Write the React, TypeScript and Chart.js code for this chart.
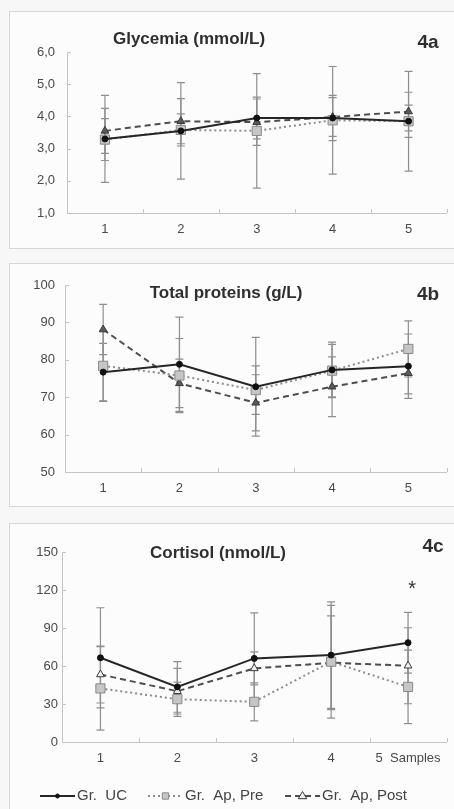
import React, { useEffect, useRef } from 'react';
import { Chart, registerables } from 'chart.js';
Chart.register(...registerables);

// ---------- data ----------
const categories = ['1', '2', '3', '4', '5'];
const cortisolTickLabels = ['1', '2', '3', '4', '5  Samples'];
const seriesNames = ['Gr.  UC', 'Gr.  Ap, Pre', 'Gr.  Ap, Post'];

const glycemiaUC = [3.3, 3.55, 3.95, 3.95, 3.85];
const glycemiaPre = [3.28, 3.58, 3.55, 3.88, 3.85];
const glycemiaPost = [3.55, 3.85, 3.82, 3.98, 4.15];
const glycemiaUCsd = [1.35, 1.5, 0.65, 0.7, 0.5];
const glycemiaPresd = [0.65, 0.5, 1.78, 1.67, 1.55];
const glycemiaPostsd = [0.7, 0.7, 0.72, 0.6, 0.6];

const proteinUC = [76.7, 78.8, 72.8, 77.3, 78.3];
const proteinPre = [78.4, 75.8, 71.9, 77.1, 82.9];
const proteinPost = [88.1, 73.7, 68.5, 72.8, 76.4];
const proteinUCsd = [7.7, 12.6, 13.2, 7.4, 8.6];
const proteinPresd = [9.5, 9.9, 6.5, 7.0, 7.5];
const proteinPostsd = [6.7, 6.5, 7.5, 8.0, 5.5];

const cortisolUC = [66.5, 43.5, 66, 68.6, 78.4];
const cortisolPre = [42.3, 33.8, 31.7, 63.4, 43.5];
const cortisolPost = [53.3, 40.1, 58.1, 62.6, 60.2];
const cortisolUCsd = [39.5, 20, 36, 42, 24];
const cortisolPresd = [33, 13.5, 15, 44.5, 29];
const cortisolPostsd = [22.5, 18, 13, 37, 30];

const FONT = '"Liberation Sans", Arial, Helvetica, sans-serif';
const W = 454;

type Area = { left: number; right: number; top: number; bottom: number };
type Spec = {
  title: string;
  tag: string;
  canvasTop: number;
  canvasHeight: number;
  area: Area;
  yMin: number;
  yMax: number;
  yStep: number;
  decimals: boolean;
  yPad: number;
  tickLabels: string[];
  values: number[][];
  sds: number[][];
  triFill: string;
  titlePos: [number, number];
  tagPos: [number, number];
  tagSize: number;
  star?: { index: number; value: number };
  legend?: { y: number; xs: number[] };
};

const specs: Spec[] = [
  {
    title: 'Glycemia (mmol/L)', tag: '4a', canvasTop: 0, canvasHeight: 255,
    area: { left: 67, right: 454, top: 52, bottom: 213 },
    yMin: 1, yMax: 6, yStep: 1, decimals: true, yPad: 12,
    tickLabels: categories,
    values: [glycemiaUC, glycemiaPre, glycemiaPost],
    sds: [glycemiaUCsd, glycemiaPresd, glycemiaPostsd],
    triFill: '#5a5a5a',
    titlePos: [189, 39], tagPos: [428, 43], tagSize: 19,
  },
  {
    title: 'Total proteins (g/L)', tag: '4b', canvasTop: 255, canvasHeight: 258,
    area: { left: 65, right: 450, top: 285, bottom: 472 },
    yMin: 50, yMax: 100, yStep: 10, decimals: false, yPad: 10,
    tickLabels: categories,
    values: [proteinUC, proteinPre, proteinPost],
    sds: [proteinUCsd, proteinPresd, proteinPostsd],
    triFill: '#5a5a5a',
    titlePos: [226, 293], tagPos: [428, 295], tagSize: 19,
  },
  {
    title: 'Cortisol (nmol/L)', tag: '4c', canvasTop: 515, canvasHeight: 294,
    area: { left: 62, right: 452, top: 552, bottom: 742 },
    yMin: 0, yMax: 150, yStep: 30, decimals: false, yPad: 4,
    tickLabels: cortisolTickLabels,
    values: [cortisolUC, cortisolPre, cortisolPost],
    sds: [cortisolUCsd, cortisolPresd, cortisolPostsd],
    triFill: '#f2f2f2',
    titlePos: [218, 553], tagPos: [433, 547], tagSize: 19,
    star: { index: 4, value: 124 },
    legend: { y: 796, xs: [40, 148, 285] },
  },
];

function drawMarker(ctx: CanvasRenderingContext2D, style: string, x: number, y: number, r: number, fill: string, stroke: string) {
  ctx.save();
  ctx.setLineDash([]);
  ctx.fillStyle = fill;
  ctx.strokeStyle = stroke;
  ctx.lineWidth = 1;
  ctx.beginPath();
  if (style === 'rect') {
    const s = r * Math.SQRT1_2;
    ctx.rect(x - s, y - s, 2 * s, 2 * s);
  } else if (style === 'triangle') {
    ctx.moveTo(x, y - r);
    ctx.lineTo(x + r * 0.95, y + r * 0.6);
    ctx.lineTo(x - r * 0.95, y + r * 0.6);
    ctx.closePath();
  } else {
    ctx.arc(x, y, r, 0, Math.PI * 2);
  }
  ctx.fill();
  ctx.stroke();
  ctx.restore();
}

const decorPlugin = {
  id: 'decor',
  beforeDatasetsDraw(chart: any) {
    const ctx = chart.ctx;
    const ys = chart.scales.y;
    ctx.save();
    ctx.strokeStyle = '#8e8e8e';
    ctx.lineWidth = 1.2;
    chart.data.datasets.forEach((ds: any, di: number) => {
      const meta = chart.getDatasetMeta(di);
      meta.data.forEach((pt: any, i: number) => {
        const v = ds.data[i];
        const s = ds.sd[i];
        const yt = ys.getPixelForValue(v + s);
        const yb = ys.getPixelForValue(v - s);
        ctx.beginPath();
        ctx.moveTo(pt.x, yt);
        ctx.lineTo(pt.x, yb);
        ctx.moveTo(pt.x - 4, yt);
        ctx.lineTo(pt.x + 4, yt);
        ctx.moveTo(pt.x - 4, yb);
        ctx.lineTo(pt.x + 4, yb);
        ctx.stroke();
      });
    });
    ctx.restore();
  },
  afterDraw(chart: any, _args: any, opts: any) {
    const ctx = chart.ctx;
    const xs = chart.scales.x;
    const ys = chart.scales.y;
    const a = chart.chartArea;
    const top = opts.canvasTop;
    ctx.save();
    // inside tick marks
    ctx.strokeStyle = '#c4c4c4';
    ctx.lineWidth = 1;
    ctx.beginPath();
    ys.ticks.forEach((_t: any, i: number) => {
      const py = Math.round(ys.getPixelForTick(i)) + 0.5;
      ctx.moveTo(a.left, py);
      ctx.lineTo(a.left + 4, py);
    });
    const n = xs.ticks.length;
    const band = n > 1 ? xs.getPixelForTick(1) - xs.getPixelForTick(0) : 0;
    for (let i = 0; i < n; i++) {
      const px = Math.round(xs.getPixelForTick(i) + band / 2) + 0.5;
      ctx.moveTo(px, a.bottom);
      ctx.lineTo(px, a.bottom - 4);
    }
    ctx.stroke();

    // title and tag
    ctx.fillStyle = '#2e2e2e';
    ctx.textAlign = 'center';
    ctx.textBaseline = 'middle';
    ctx.font = `bold 17px ${FONT}`;
    ctx.fillText(opts.title, opts.titlePos[0], opts.titlePos[1] - top);
    ctx.font = `bold ${opts.tagSize}px ${FONT}`;
    ctx.fillText(opts.tag, opts.tagPos[0], opts.tagPos[1] - top);

    if (opts.star) {
      ctx.font = `20px ${FONT}`;
      ctx.fillStyle = '#333';
      const sx = xs.getPixelForValue(opts.star.index) + 4;
      const sy = ys.getPixelForValue(opts.star.value);
      ctx.fillText('*', sx, sy + 5);
    }

    if (opts.legend) {
      const ly = opts.legend.y - top;
      chart.data.datasets.forEach((ds: any, di: number) => {
        const x0 = opts.legend.xs[di];
        ctx.save();
        ctx.strokeStyle = ds.borderColor;
        ctx.lineWidth = ds.borderWidth;
        ctx.setLineDash(ds.borderDash || []);
        ctx.beginPath();
        ctx.moveTo(x0, ly);
        ctx.lineTo(x0 + 35, ly);
        ctx.stroke();
        ctx.restore();
        const r = ds.pointStyle === 'circle' ? 2 : 4.5;
        drawMarker(ctx, ds.pointStyle, x0 + 17.5, ly, r, di === 2 ? '#f2f2f2' : ds.pointBackgroundColor, ds.pointBorderColor);
        ctx.fillStyle = '#444';
        ctx.font = `15px ${FONT}`;
        ctx.textAlign = 'left';
        ctx.textBaseline = 'middle';
        ctx.fillText(ds.label, x0 + 37, ly);
      });
    }
    ctx.restore();
  },
};

function Panel({ spec }: { spec: Spec }) {
  const ref = useRef<HTMLCanvasElement | null>(null);
  useEffect(() => {
    if (!ref.current) return;
    const s = spec;
    const localTop = s.area.top - s.canvasTop;
    const localBottom = s.area.bottom - s.canvasTop;
    const xAxisH = 30;
    const styles = [
      { borderColor: '#262626', borderWidth: 2, borderDash: [], pointStyle: 'circle', pointRadius: 3, pointBackgroundColor: '#111', pointBorderColor: '#111' },
      { borderColor: '#8c8c8c', borderWidth: 2, borderDash: [2, 3], pointStyle: 'rect', pointRadius: 6.5, pointBackgroundColor: '#c6c6c6', pointBorderColor: '#8a8a8a' },
      { borderColor: '#4d4d4d', borderWidth: 2, borderDash: [6, 4], pointStyle: 'triangle', pointRadius: 4.5, pointBackgroundColor: s.triFill, pointBorderColor: '#3a3a3a' },
    ];
    const datasets = s.values.map((vals, i) => ({
      label: seriesNames[i],
      data: vals,
      sd: s.sds[i],
      ...styles[i],
      pointBorderWidth: 1,
      fill: false,
      tension: 0,
    }));
    const chart = new Chart(ref.current, {
      type: 'line',
      data: { labels: categories, datasets: datasets as any },
      plugins: [decorPlugin as any],
      options: {
        responsive: false,
        maintainAspectRatio: false,
        animation: false,
        devicePixelRatio: 1,
        layout: {
          padding: {
            left: 0,
            right: W - s.area.right,
            top: localTop,
            bottom: s.canvasHeight - localBottom - xAxisH,
          },
        },
        plugins: {
          legend: { display: false },
          tooltip: { enabled: false },
          title: { display: false },
          decor: {
            canvasTop: s.canvasTop,
            title: s.title,
            tag: s.tag,
            titlePos: s.titlePos,
            tagPos: s.tagPos,
            tagSize: s.tagSize,
            star: s.star,
            legend: s.legend,
          },
        } as any,
        scales: {
          x: {
            type: 'category',
            offset: true,
            grid: { display: false, drawTicks: false, offset: true },
            border: { display: true, color: '#c4c4c4', width: 1 },
            ticks: {
              color: '#4a4a4a',
              font: { family: FONT, size: 13 },
              padding: 9,
              autoSkip: false,
              maxRotation: 0,
              callback: (_v: any, i: number) => s.tickLabels[i],
            },
            afterFit: (sc: any) => {
              sc.height = xAxisH;
              sc.paddingLeft = 0;
              sc.paddingRight = 0;
            },
          },
          y: {
            min: s.yMin,
            max: s.yMax,
            grid: { display: false, drawTicks: false },
            border: { display: true, color: '#c4c4c4', width: 1 },
            ticks: {
              stepSize: s.yStep,
              color: '#4a4a4a',
              font: { family: FONT, size: 13 },
              padding: s.yPad,
              callback: (v: any) => (s.decimals ? Number(v).toFixed(1).replace('.', ',') : String(v)),
            },
            afterFit: (sc: any) => {
              sc.width = s.area.left;
              sc.paddingTop = 0;
              sc.paddingBottom = 0;
            },
          },
        },
      } as any,
    });
    return () => chart.destroy();
  }, [spec]);
  return (
    <canvas
      ref={ref}
      width={W}
      height={spec.canvasHeight}
      style={{ position: 'absolute', left: 0, top: spec.canvasTop, width: W, height: spec.canvasHeight }}
    />
  );
}

const panelBoxes = [
  { top: 11, height: 238 },
  { top: 263, height: 244 },
  { top: 523, height: 320 },
];

export default function App() {
  return (
    <div
      style={{
        position: 'absolute',
        left: 0,
        top: 0,
        width: W,
        height: 809,
        overflow: 'hidden',
        background: '#f7f7f7',
      }}
    >
      {panelBoxes.map((b, i) => (
        <div
          key={'b' + i}
          style={{
            position: 'absolute',
            left: 9,
            top: b.top,
            width: 470,
            height: b.height,
            border: '1px solid #d6d6d6',
            background: '#fcfcfc',
            boxSizing: 'border-box',
          }}
        />
      ))}
      {specs.map((s, i) => (
        <Panel key={i} spec={s} />
      ))}
    </div>
  );
}
